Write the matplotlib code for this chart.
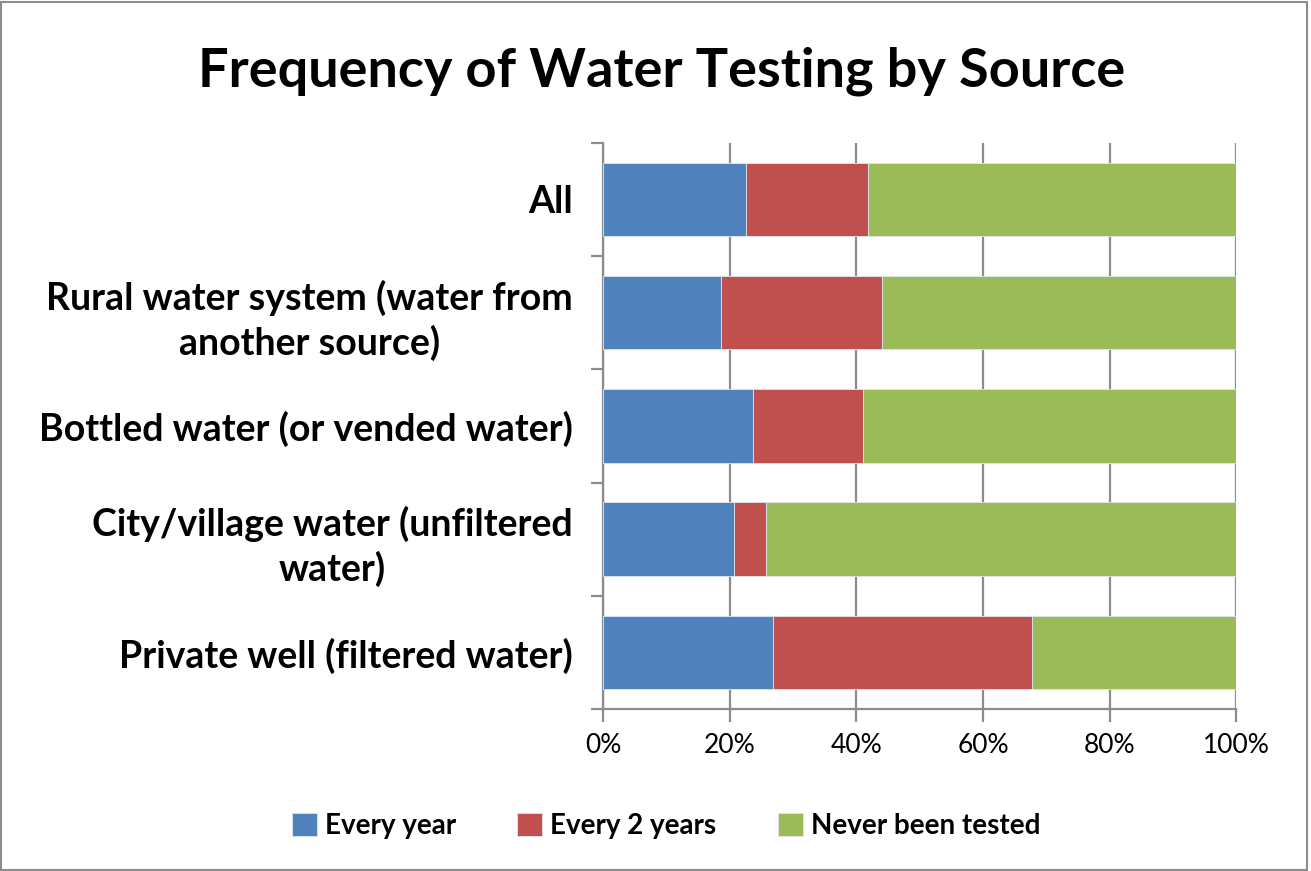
import matplotlib
import matplotlib.pyplot as plt
from matplotlib.ticker import PercentFormatter

matplotlib.use('Agg')

categories = [
    "All",
    "Rural water system (water from\nanother source)",
    "Bottled water (or vended water)",
    "City/village water (unfiltered\nwater)",
    "Private well (filtered water)",
]
every_year = [22.6, 18.6, 23.7, 20.6, 26.9]
every_2_years = [19.2, 25.5, 17.3, 5.1, 40.9]
never_tested = [58.2, 55.9, 59.0, 74.3, 32.2]
series_names = ["Every year", "Every 2 years", "Never been tested"]
colors = ["#4F81BD", "#C0504D", "#9BBB59"]

plt.rcParams['font.family'] = ['Lato', 'DejaVu Sans']

fig = plt.figure(figsize=(13.11, 8.71), dpi=100)
ax = fig.add_axes([0.46, 0.186, 0.483, 0.65])

pos = list(range(len(categories)))
left = [0.0] * len(categories)
for name, vals, c in zip(series_names, [every_year, every_2_years, never_tested], colors):
    ax.barh(pos, vals, left=left, height=0.65, color=c, label=name,
            edgecolor='#dde6f0', linewidth=0.6, zorder=3)
    left = [l + v for l, v in zip(left, vals)]

ax.set_xlim(0, 100)
ax.set_ylim(len(categories) - 0.5, -0.5)
ax.set_xticks([0, 20, 40, 60, 80, 100])
ax.xaxis.set_major_formatter(PercentFormatter(decimals=0))
ax.grid(axis='x', color='#8c8c8c', linewidth=1.6, zorder=0)

ax.set_yticks([p - 0.5 for p in pos] + [len(categories) - 0.5])
ax.set_yticklabels([])
ax.set_yticks(pos, minor=True)
ax.set_yticklabels(categories, minor=True, fontsize=27, fontweight='bold', ha='right')
ax.tick_params(axis='y', which='minor', length=0, pad=22)
ax.tick_params(axis='y', which='major', length=9, width=1.6, color='#8c8c8c')
ax.tick_params(axis='x', length=9, width=1.6, color='#8c8c8c', labelsize=19, pad=8)
for lab in ax.get_yticklabels(minor=True):
    lab.set_multialignment('center')
    lab.set_linespacing(1.3)

for s in ['top', 'right']:
    ax.spines[s].set_visible(False)
for s in ['left', 'bottom']:
    ax.spines[s].set_color('#8c8c8c')
    ax.spines[s].set_linewidth(1.6)

fig.text(0.505, 0.918, "Frequency of Water Testing by Source", ha='center', va='center',
         fontsize=39, fontweight='bold')

fig.legend(loc='center', bbox_to_anchor=(0.508, 0.052), ncol=3, frameon=False,
           prop={'size': 20, 'weight': 'bold'}, handlelength=0.9, handleheight=0.9,
           handletextpad=0.3, columnspacing=2.2)

fig.patches.append(plt.Rectangle((0.001, 0.001), 0.996, 0.997, transform=fig.transFigure,
                                 fill=False, edgecolor='#8c8c8c', linewidth=1.5))

fig.savefig("out.png", dpi=100)
